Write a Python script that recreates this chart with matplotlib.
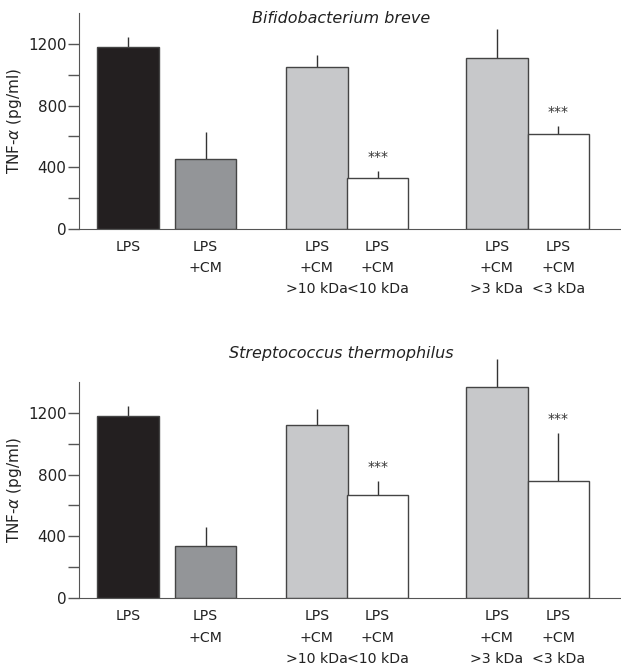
import numpy as np
import matplotlib
matplotlib.use('Agg')
import matplotlib.pyplot as plt

# data
labels = ['LPS', 'LPS\n+CM', 'LPS\n+CM\n>10 kDa', 'LPS\n+CM\n<10 kDa',
          'LPS\n+CM\n>3 kDa', 'LPS\n+CM\n<3 kDa']
xpos = [0, 1.26, 3.07, 4.06, 6.0, 7.0]
colors = ['#231f20', '#939598', '#c7c8ca', '#ffffff', '#c7c8ca', '#ffffff']

breve_mean = [1182, 455, 1052, 333, 1107, 615]
breve_err = [64, 176, 78, 43, 189, 52]
breve_star = [False, False, False, True, False, True]

thermo_mean = [1178, 337, 1119, 669, 1363, 759]
thermo_err = [68, 126, 103, 88, 185, 311]
thermo_star = [False, False, False, True, False, True]

titles = ['Bifidobacterium breve', 'Streptococcus thermophilus']

plt.rcParams['font.family'] = ['DejaVu Sans']
fig = plt.figure(figsize=(6.21, 6.65), dpi=100)
ax1 = fig.add_axes([0.1272, 0.6556, 0.8728, 0.3248])
ax2 = fig.add_axes([0.1272, 0.1003, 0.8728, 0.3257])

axcol = '#555555'
txtcol = '#222222'
for ax, means, errs, stars in [(ax1, breve_mean, breve_err, breve_star),
                               (ax2, thermo_mean, thermo_err, thermo_star)]:
    ax.bar(xpos, means, width=1.0, color=colors, edgecolor='#444444', linewidth=1.0, zorder=2)
    ax.errorbar(xpos, means, yerr=[np.zeros(len(means)), errs], fmt='none',
                ecolor='#333333', elinewidth=1.0, capsize=0, zorder=1, clip_on=False)
    for x, m, e, s in zip(xpos, means, errs, stars):
        if s:
            ax.text(x, m + e + 45, '***', ha='center', va='bottom', fontsize=10, color='#333333')
    ax.set_xlim(-0.8, 8.02)
    ax.set_ylim(0, 1400)
    ax.set_yticks([0, 400, 800, 1200])
    ax.set_yticks([200, 600, 1000], minor=True)
    ax.set_xticks(xpos)
    ax.set_xticklabels(labels, fontsize=10.2, linespacing=1.65, color=txtcol)
    ax.tick_params(axis='x', length=0, pad=8)
    ax.tick_params(axis='y', which='both', direction='out', length=8, width=1, pad=1,
                   color=axcol, labelsize=11, labelcolor=txtcol)
    ax.spines['top'].set_visible(False)
    ax.spines['right'].set_visible(False)
    ax.spines['left'].set_color(axcol)
    ax.spines['bottom'].set_color(axcol)
    ax.set_ylabel(r'TNF-$\alpha$ (pg/ml)', fontsize=11, color=txtcol, labelpad=3)

fig.text(0.55, 0.972, titles[0], ha='center', va='center', style='italic', fontsize=11.5, color=txtcol)
fig.text(0.55, 0.469, titles[1], ha='center', va='center', style='italic', fontsize=11.5, color=txtcol)

fig.savefig('out.png', dpi=100)
